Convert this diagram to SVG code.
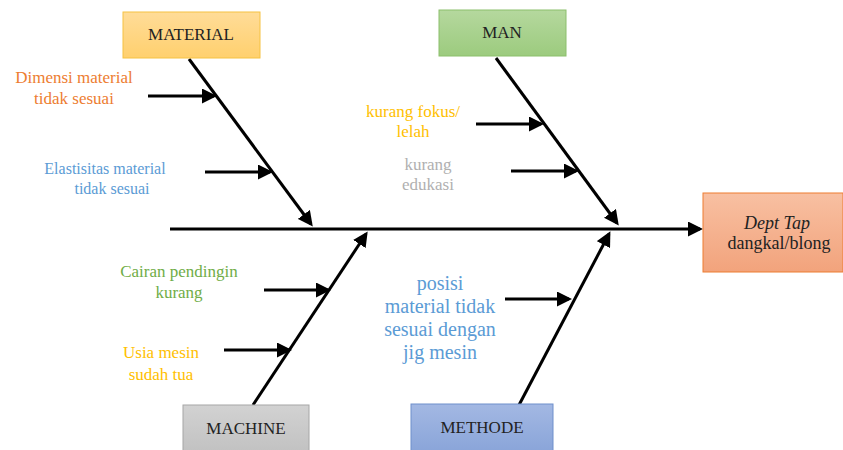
<svg xmlns="http://www.w3.org/2000/svg" width="843" height="450" viewBox="0 0 843 450">
<style>
.t{font-family:"Liberation Serif","Times New Roman",serif;text-anchor:middle}
.lbl{font-size:17px;fill:#222}
.c{font-size:17px}
.ln{stroke:#000;stroke-width:3;fill:none;marker-end:url(#ah)}
</style>
<defs>
<marker id="ah" markerWidth="5" markerHeight="5" refX="4" refY="2.5" orient="auto" markerUnits="strokeWidth">
<path d="M0,0 L5,2.5 L0,5 Z" fill="#000"/>
</marker>
<linearGradient id="gO" x1="0" y1="0" x2="0" y2="1"><stop offset="0" stop-color="#FFDC98"/><stop offset="1" stop-color="#FFD06E"/></linearGradient>
<linearGradient id="gG" x1="0" y1="0" x2="0" y2="1"><stop offset="0" stop-color="#B5D89E"/><stop offset="1" stop-color="#9CCB7E"/></linearGradient>
<linearGradient id="gR" x1="0" y1="0" x2="0" y2="1"><stop offset="0" stop-color="#F8C0A2"/><stop offset="1" stop-color="#F2A37C"/></linearGradient>
<linearGradient id="gS" x1="0" y1="0" x2="0" y2="1"><stop offset="0" stop-color="#D2D2D2"/><stop offset="1" stop-color="#C2C2C2"/></linearGradient>
<linearGradient id="gB" x1="0" y1="0" x2="0" y2="1"><stop offset="0" stop-color="#A3B8E3"/><stop offset="1" stop-color="#8AA5D9"/></linearGradient>
</defs>
<g id="connectors">
<line class="ln" x1="170" y1="229" x2="700" y2="229"/>
<line class="ln" x1="189" y1="59" x2="311" y2="224"/>
<line class="ln" x1="496" y1="58" x2="617" y2="223"/>
<line class="ln" x1="253" y1="405" x2="366" y2="234"/>
<line class="ln" x1="519" y1="405" x2="609" y2="234"/>
<line class="ln" x1="148" y1="96" x2="214" y2="96"/>
<line class="ln" x1="205" y1="172" x2="270" y2="172"/>
<line class="ln" x1="476" y1="124" x2="541" y2="124"/>
<line class="ln" x1="511" y1="171" x2="576" y2="171"/>
<line class="ln" x1="264" y1="290" x2="328" y2="290"/>
<line class="ln" x1="224" y1="350" x2="289" y2="350"/>
<line class="ln" x1="505" y1="299" x2="569" y2="299"/>
</g>
<g id="material">
<rect x="123" y="12" width="137" height="46" fill="url(#gO)" stroke="#F5C243" stroke-width="1"/>
<text class="t lbl" x="191" y="40">MATERIAL</text>
</g>
<g id="man">
<rect x="439" y="10" width="127" height="46" fill="url(#gG)" stroke="#8CBF6C" stroke-width="1"/>
<text class="t lbl" x="502" y="38">MAN</text>
</g>
<g id="effect">
<rect x="703" y="193" width="140" height="79" fill="url(#gR)" stroke="#ED7D31" stroke-width="1"/>
<text class="t" font-size="18" fill="#222" x="777" y="229" font-style="italic">Dept Tap</text>
<text class="t" font-size="18" fill="#222" x="779" y="249">dangkal/blong</text>
</g>
<g id="machine">
<rect x="183" y="405" width="126" height="46" fill="url(#gS)" stroke="#A6A6A6" stroke-width="1"/>
<text class="t lbl" x="246" y="434">MACHINE</text>
</g>
<g id="methode">
<rect x="411" y="404" width="142" height="47" fill="url(#gB)" stroke="#6F8FCB" stroke-width="1"/>
<text class="t lbl" x="482" y="433">METHODE</text>
</g>
<g id="dimensi">
<text class="t c" x="74" y="83" fill="#ED7D31">Dimensi material</text>
<text class="t c" x="74" y="104" fill="#ED7D31">tidak sesuai</text>
</g>
<g id="elastisitas">
<text class="t" font-size="16" x="105" y="174" fill="#5B9BD5">Elastisitas material</text>
<text class="t" font-size="16" x="112" y="194" fill="#5B9BD5">tidak sesuai</text>
</g>
<g id="fokus">
<text class="t c" x="413" y="117" fill="#FFC000">kurang fokus/</text>
<text class="t c" x="413" y="137" fill="#FFC000">lelah</text>
</g>
<g id="edukasi">
<text class="t c" x="428" y="170" fill="#B0B0B0">kurang</text>
<text class="t c" x="428" y="190" fill="#B0B0B0">edukasi</text>
</g>
<g id="cairan">
<text class="t c" x="179" y="277" fill="#70AD47">Cairan pendingin</text>
<text class="t c" x="179" y="298" fill="#70AD47">kurang</text>
</g>
<g id="usia">
<text class="t c" x="161" y="358" fill="#FFC000">Usia mesin</text>
<text class="t c" x="161" y="380" fill="#FFC000">sudah tua</text>
</g>
<g id="posisi">
<text class="t" font-size="20" x="440" y="290" fill="#5B9BD5">posisi</text>
<text class="t" font-size="20" x="440" y="313" fill="#5B9BD5">material tidak</text>
<text class="t" font-size="20" x="440" y="336" fill="#5B9BD5">sesuai dengan</text>
<text class="t" font-size="20" x="440" y="359" fill="#5B9BD5">jig mesin</text>
</g>
</svg>
